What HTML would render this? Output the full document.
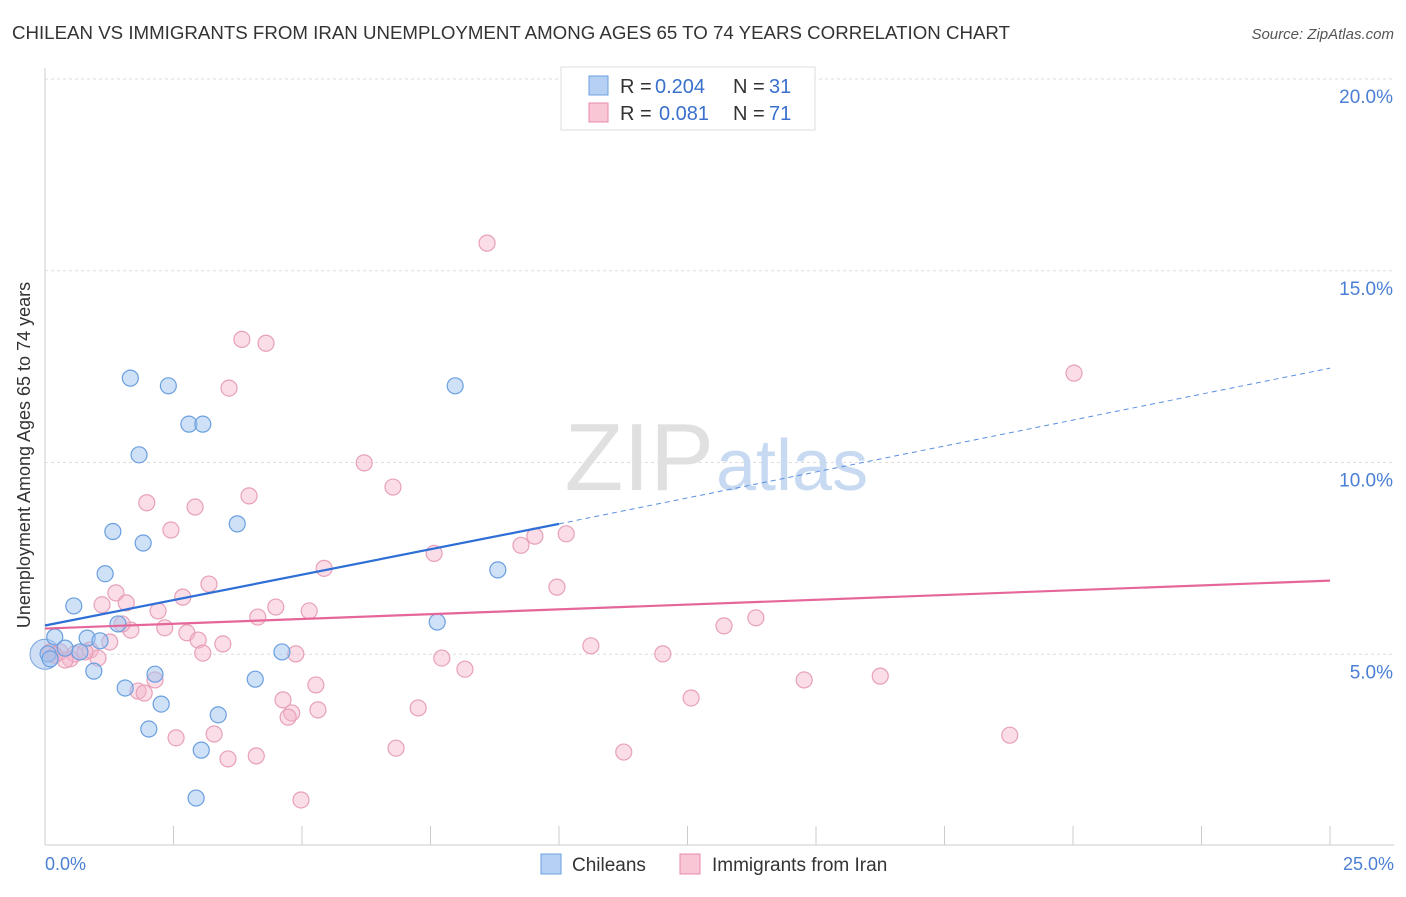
<!DOCTYPE html>
<html><head><meta charset="utf-8"><style>
body{margin:0;background:#fff;font-family:"Liberation Sans",sans-serif;}
svg text{font-family:"Liberation Sans",sans-serif;}
</style></head><body>
<svg width="1406" height="892" xmlns="http://www.w3.org/2000/svg">
<text x="12" y="39" font-size="18" fill="#333" textLength="998" lengthAdjust="spacingAndGlyphs">CHILEAN VS IMMIGRANTS FROM IRAN UNEMPLOYMENT AMONG AGES 65 TO 74 YEARS CORRELATION CHART</text>
<text x="1394" y="39" font-size="15" fill="#555" font-style="italic" text-anchor="end">Source: ZipAtlas.com</text>
<g id="grid"></g>
<text x="714" y="490" font-size="96" fill="#e0e0e0" text-anchor="end" font-family="Liberation Serif">ZIP</text>
<text x="716" y="490" font-size="72" fill="#c8daf2">atlas</text>
<g id="marks"></g>
<text x="30" y="455" font-size="18" fill="#333" text-anchor="middle" transform="rotate(-90 30 455)">Unemployment Among Ages 65 to 74 years</text>
<text x="45" y="870" font-size="18" fill="#4a7fd4">0.0%</text>
<text x="1394" y="870" font-size="18" fill="#4a7fd4" text-anchor="end">25.0%</text>
<g>
<rect x="561" y="67" width="254" height="63" fill="#fff" stroke="#ddd"/>
<rect x="589" y="76" width="19" height="19" fill="#b5d0f2" stroke="#6a9fe0"/>
<rect x="589" y="103" width="19" height="19" fill="#f8c6d5" stroke="#e88aa8"/>
<text x="620" y="93" font-size="20" fill="#333">R =</text>
<text x="655" y="93" font-size="20" fill="#3a70cc">0.204</text>
<text x="733" y="93" font-size="20" fill="#333">N =</text>
<text x="769" y="93" font-size="20" fill="#3a70cc">31</text>
<text x="620" y="120" font-size="20" fill="#333">R =</text>
<text x="659" y="120" font-size="20" fill="#3a70cc">0.081</text>
<text x="733" y="120" font-size="20" fill="#333">N =</text>
<text x="769" y="120" font-size="20" fill="#3a70cc">71</text>
</g>
<g>
<rect x="541" y="854" width="20" height="20" fill="#b5d0f2" stroke="#6a9fe0"/>
<text x="572" y="871" font-size="19" fill="#333">Chileans</text>
<rect x="680" y="854" width="20" height="20" fill="#f8c6d5" stroke="#e88aa8"/>
<text x="712" y="871" font-size="19" fill="#333">Immigrants from Iran</text>
</g>
</svg>
<script>
const yTicks=[5,10,15,20];
const xTicks=[0,2.5,5,7.5,10,12.5,15,17.5,20,22.5,25];
const blueX=[1.66,2.4,7.98,2.8,3.07,1.83,3.74,1.32,1.91,1.17,8.81,0.56,1.42,7.63,0.82,1.07,4.61,0.19,0.39,0.95,2.14,1.56,4.09,2.26,3.37,2.02,3.04,2.94,0.06,0.1,0.68];
const blueY=[12.2,12.0,12.0,11.0,11.0,10.2,8.4,8.2,7.9,7.1,7.2,6.26,5.79,5.84,5.42,5.35,5.06,5.45,5.16,4.56,4.48,4.12,4.35,3.7,3.42,3.05,2.5,1.25,5.01,4.88,5.06];
const pinkX=[8.6,3.83,4.3,20.02,3.58,6.21,6.77,3.97,1.98,2.92,2.45,10.14,9.53,9.26,7.57,5.43,9.96,3.19,1.38,2.68,1.58,1.11,4.49,5.14,2.2,4.14,13.83,2.33,2.76,13.21,1.67,1.5,2.98,3.46,1.26,10.62,3.07,4.88,12.02,0.88,1.03,7.72,8.17,0.58,0.78,0.29,16.25,14.77,5.27,2.14,1.81,1.93,4.63,12.57,7.26,5.31,4.8,4.73,3.29,2.55,18.77,6.83,11.26,4.11,3.56,4.98,0.49,0.1,0.39,0.19];
const pinkY=[15.72,13.21,13.11,12.33,11.94,9.99,9.36,9.13,8.95,8.84,8.24,8.14,8.08,7.84,7.63,7.24,6.75,6.83,6.6,6.49,6.34,6.29,6.23,6.13,6.13,5.97,5.95,5.69,5.56,5.74,5.63,5.79,5.37,5.27,5.32,5.22,5.03,5.01,5.01,5.11,4.9,4.9,4.61,5.01,5.06,5.06,4.43,4.33,4.2,4.33,4.04,3.99,3.81,3.86,3.6,3.55,3.47,3.36,2.92,2.82,2.89,2.55,2.45,2.35,2.27,1.2,4.88,5.06,4.85,4.98];
const blueTrend=[5.75,8.4,12.46];
const pinkTrend=[5.67,6.92];
const X=v=>45+v*51.4, Y=v=>846-v*38.35;
const NS="http://www.w3.org/2000/svg";
function mk(tag,attrs,parent){const e=document.createElementNS(NS,tag);for(const k in attrs)e.setAttribute(k,attrs[k]);parent.appendChild(e);return e;}
const grid=document.getElementById('grid'),marks=document.getElementById('marks');
mk('line',{x1:45,y1:845,x2:1394,y2:845,stroke:'#ccc'},grid);
mk('line',{x1:45,y1:68,x2:45,y2:845,stroke:'#ccc'},grid);
yTicks.forEach(t=>{
 const l=mk('line',{x1:45,y1:Y(t),x2:1394,y2:Y(t),stroke:'#ddd','stroke-dasharray':'3,3'},grid);
 
 
 const tx=mk('text',{x:1393,y:Y(t)+24,'font-size':19,fill:'#4a7fd4','text-anchor':'end'},grid);tx.textContent=t.toFixed(1)+'%';
 
 
});
xTicks.forEach(t=>{
 const l=mk('line',{x1:X(t),y1:826,x2:X(t),y2:845,stroke:'#ccc'},grid);
 
 
});
const big=mk('circle',{cx:X(0),cy:Y(5),r:15,fill:'rgba(160,190,235,0.5)',stroke:'#7aa5e0'},marks);


pinkX.forEach((x,i)=>{const c=mk('circle',{cx:X(x),cy:Y(pinkY[i]),r:8,fill:'rgba(245,180,202,0.45)',stroke:'#e8a0b8','stroke-width':1.2},marks);
 
 });
blueX.forEach((x,i)=>{const c=mk('circle',{cx:X(x),cy:Y(blueY[i]),r:8,fill:'rgba(160,195,240,0.5)',stroke:'#6a9fe0','stroke-width':1.2},marks);
 
 });
let t1=mk('line',{x1:X(0),y1:Y(blueTrend[0]),x2:X(10),y2:Y(blueTrend[1]),stroke:'#2e6fd6','stroke-width':2.2},marks);


let t2=mk('line',{x1:X(10),y1:Y(blueTrend[1]),x2:X(25),y2:Y(blueTrend[2]),stroke:'#5a8fe0','stroke-width':1,'stroke-dasharray':'5,4'},marks);


let t3=mk('line',{x1:X(0),y1:Y(pinkTrend[0]),x2:X(25),y2:Y(pinkTrend[1]),stroke:'#e5679a','stroke-width':2.2},marks);


</script>
</body></html>
